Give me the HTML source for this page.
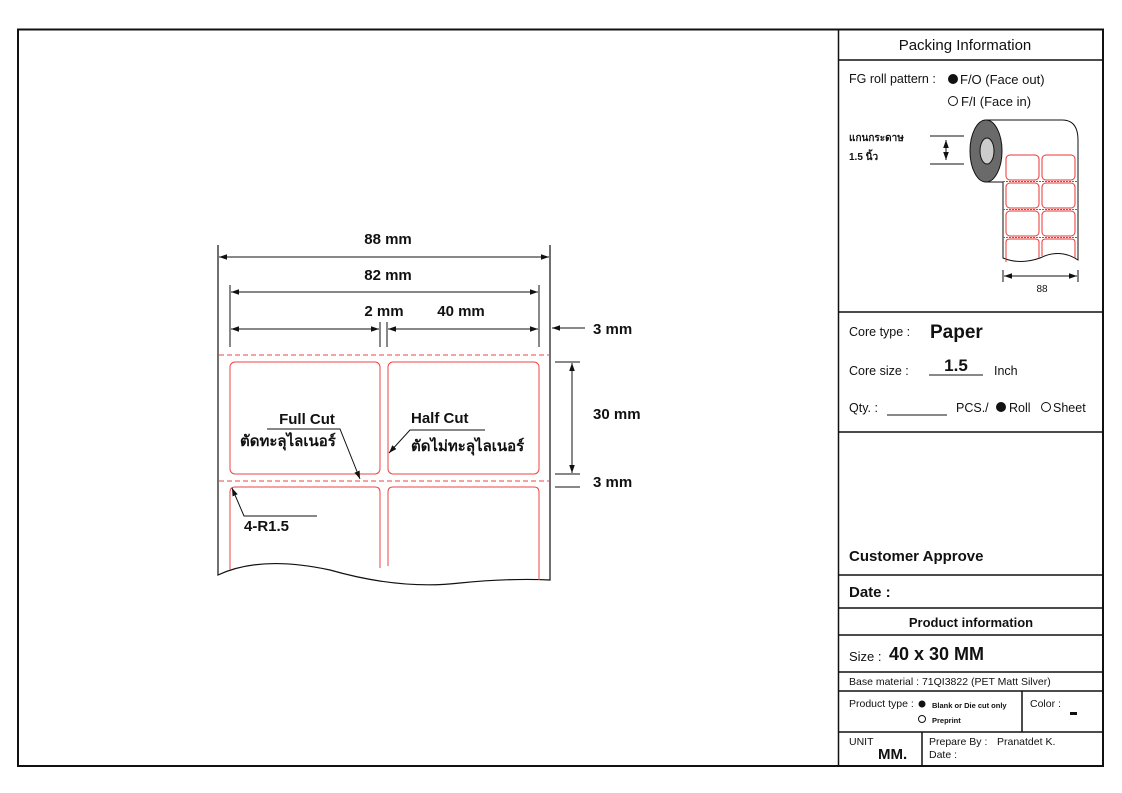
<!DOCTYPE html>
<html><head><meta charset="utf-8"><style>
html,body{margin:0;padding:0;background:#fff}
svg{display:block}
text{font-family:"Liberation Sans","DejaVu Sans",sans-serif;fill:#111}
.b{font-weight:bold}
</style></head><body>
<svg width="1122" height="793" viewBox="0 0 1122 793" xmlns="http://www.w3.org/2000/svg">
<defs>
<marker id="a" viewBox="0 0 10 10" refX="10" refY="5" markerWidth="8" markerHeight="8" orient="auto-start-reverse"><path d="M0,1.5 L10,5 L0,8.5 z" fill="#111"/></marker>
</defs>
<!-- frame -->
<rect x="18" y="29.5" width="1085" height="736.5" fill="none" stroke="#111" stroke-width="2"/>
<line x1="838.5" y1="29" x2="838.5" y2="766" stroke="#111" stroke-width="1.5"/>
<g stroke="#111" stroke-width="1.5">
<line x1="838" y1="60" x2="1103" y2="60"/>
<line x1="838" y1="312" x2="1103" y2="312"/>
<line x1="838" y1="432" x2="1103" y2="432"/>
<line x1="838" y1="575" x2="1103" y2="575"/>
<line x1="838" y1="608" x2="1103" y2="608"/>
<line x1="838" y1="635" x2="1103" y2="635"/>
<line x1="838" y1="672" x2="1103" y2="672"/>
<line x1="838" y1="691" x2="1103" y2="691"/>
<line x1="838" y1="732" x2="1103" y2="732"/>
<line x1="1022" y1="691" x2="1022" y2="732"/>
<line x1="922" y1="732" x2="922" y2="766"/>
</g>
<!-- right panel text -->
<text x="965" y="50" font-size="15" text-anchor="middle">Packing Information</text>
<text x="849" y="83" font-size="12.5">FG roll pattern :</text>
<circle cx="953" cy="79" r="5" fill="#111"/>
<text x="960" y="84" font-size="13">F/O (Face out)</text>
<circle cx="953" cy="101" r="4.5" fill="none" stroke="#111"/>
<text x="961" y="106" font-size="13">F/I (Face in)</text>
<text x="849" y="141" font-size="10" class="b">แกนกระดาษ</text>
<text x="849" y="160" font-size="10" class="b">1.5 นิ้ว</text>
<g stroke="#111" stroke-width="1">
<line x1="930" y1="136" x2="964" y2="136"/>
<line x1="930" y1="164" x2="964" y2="164"/>
<line x1="946" y1="140" x2="946" y2="160" marker-start="url(#a)" marker-end="url(#a)"/>
</g>
<!-- roll -->
<path d="M986,120 L1062,120 Q1078,120 1078,140 L1078,260 Q1060,248 1040,258 Q1020,265 1003,258 L1003,182 L986,182 Z" fill="#fff" stroke="#111"/>
<ellipse cx="986" cy="151" rx="16" ry="31" fill="#6a6a6a" stroke="#111"/>
<ellipse cx="987" cy="151" rx="7" ry="13" fill="#ccc" stroke="#111"/>
<g fill="none" stroke="#e33" stroke-width="1">
<rect x="1006" y="155" width="33" height="25" rx="4"/><rect x="1042" y="155" width="33" height="25" rx="4"/>
<rect x="1006" y="183" width="33" height="25" rx="4"/><rect x="1042" y="183" width="33" height="25" rx="4"/>
<rect x="1006" y="211" width="33" height="25" rx="4"/><rect x="1042" y="211" width="33" height="25" rx="4"/>
<path d="M1006,262 L1006,242 Q1006,239 1010,239 L1035,239 Q1039,239 1039,242 L1039,258"/>
<path d="M1042,256 L1042,242 Q1042,239 1046,239 L1071,239 Q1075,239 1075,242 L1075,258"/>
<line x1="1003" y1="181.5" x2="1078" y2="181.5" stroke-dasharray="2,1"/>
<line x1="1003" y1="209.5" x2="1078" y2="209.5" stroke-dasharray="2,1"/>
<line x1="1003" y1="237.5" x2="1078" y2="237.5" stroke-dasharray="2,1"/>
</g>
<g stroke="#111" stroke-width="1">
<line x1="1003" y1="270" x2="1003" y2="282"/><line x1="1078" y1="270" x2="1078" y2="282"/>
<line x1="1004" y1="276" x2="1077" y2="276" marker-start="url(#a)" marker-end="url(#a)"/>
</g>
<text x="1042" y="292" font-size="10" text-anchor="middle">88</text>
<text x="849" y="336" font-size="12.5">Core type :</text>
<text x="930" y="338" font-size="19" class="b">Paper</text>
<text x="849" y="375" font-size="12.5">Core size :</text>
<text x="956" y="371" font-size="17" class="b" text-anchor="middle">1.5</text>
<line x1="929" y1="375" x2="983" y2="375" stroke="#111"/>
<text x="994" y="375" font-size="12.5">Inch</text>
<text x="849" y="412" font-size="12.5">Qty. :</text>
<line x1="887" y1="415" x2="947" y2="415" stroke="#111"/>
<text x="956" y="412" font-size="12.5">PCS./</text>
<circle cx="1001" cy="407" r="5" fill="#111"/>
<text x="1009" y="412" font-size="12.5">Roll</text>
<circle cx="1046" cy="407" r="4.5" fill="none" stroke="#111"/>
<text x="1053" y="412" font-size="12.5">Sheet</text>
<text x="849" y="561" font-size="15" class="b">Customer Approve</text>
<text x="849" y="597" font-size="15" class="b">Date :</text>
<text x="971" y="627" font-size="13" class="b" text-anchor="middle">Product information</text>
<text x="849" y="661" font-size="13">Size :</text>
<text x="889" y="660" font-size="18" class="b">40 x 30 MM</text>
<text x="849" y="685" font-size="10.5">Base material : 71QI3822 (PET Matt Silver)</text>
<text x="849" y="707" font-size="10.5">Product type :</text>
<circle cx="922" cy="704" r="3.5" fill="#111"/>
<text x="932" y="708" font-size="7.5" class="b">Blank or Die cut only</text>
<circle cx="922" cy="719" r="3.5" fill="none" stroke="#111"/>
<text x="932" y="723" font-size="7.5" class="b">Preprint</text>
<text x="1030" y="707" font-size="10.5">Color :</text>
<rect x="1070" y="712" width="7" height="3" fill="#111"/>
<text x="849" y="745" font-size="10.5">UNIT</text>
<text x="878" y="759" font-size="15" class="b">MM.</text>
<text x="929" y="745" font-size="10.5">Prepare By :</text>
<text x="997" y="745" font-size="10.5">Pranatdet K.</text>
<text x="929" y="758" font-size="10.5">Date :</text>
<!-- left drawing -->
<path d="M218,245 L218,575 Q260,555 330,570 Q400,590 460,583 Q510,578 550,580 L550,245" fill="none" stroke="#111" stroke-width="1.2"/>
<g stroke="#111" stroke-width="1">
<line x1="230" y1="285" x2="230" y2="347"/><line x1="539" y1="285" x2="539" y2="347"/>
<line x1="380" y1="322" x2="380" y2="347"/><line x1="387" y1="322" x2="387" y2="347"/>
<line x1="219" y1="257" x2="549" y2="257" marker-start="url(#a)" marker-end="url(#a)"/>
<line x1="231" y1="292" x2="538" y2="292" marker-start="url(#a)" marker-end="url(#a)"/>
<line x1="231" y1="329" x2="379" y2="329" marker-start="url(#a)" marker-end="url(#a)"/>
<line x1="388" y1="329" x2="538" y2="329" marker-start="url(#a)" marker-end="url(#a)"/>
<line x1="585" y1="328" x2="552" y2="328" marker-end="url(#a)"/>
<line x1="555" y1="362" x2="580" y2="362"/><line x1="555" y1="474" x2="580" y2="474"/><line x1="555" y1="487" x2="580" y2="487"/>
<line x1="572" y1="363" x2="572" y2="473" marker-start="url(#a)" marker-end="url(#a)"/>
</g>
<text x="388" y="244" font-size="15" class="b" text-anchor="middle">88 mm</text>
<text x="388" y="280" font-size="15" class="b" text-anchor="middle">82 mm</text>
<text x="384" y="316" font-size="15" class="b" text-anchor="middle">2 mm</text>
<text x="461" y="316" font-size="15" class="b" text-anchor="middle">40 mm</text>
<text x="593" y="334" font-size="15" class="b">3 mm</text>
<text x="593" y="419" font-size="15" class="b">30 mm</text>
<text x="593" y="487" font-size="15" class="b">3 mm</text>
<g stroke="#e44" fill="none" stroke-width="1">
<line x1="219" y1="355" x2="550" y2="355" stroke-dasharray="5,3"/>
<line x1="219" y1="481" x2="550" y2="481" stroke-dasharray="5,3"/>
<rect x="230" y="362" width="150" height="112" rx="5"/>
<rect x="388" y="362" width="151" height="112" rx="5"/>
<path d="M230,570 L230,492 Q230,487 235,487 L375,487 Q380,487 380,492 L380,568"/>
<path d="M388,566 L388,492 Q388,487 393,487 L534,487 Q539,487 539,492 L539,580"/>
</g>
<text x="307" y="424" font-size="15" class="b" text-anchor="middle">Full Cut</text>
<text x="240" y="446" font-size="15" class="b">ตัดทะลุไลเนอร์</text>
<text x="411" y="423" font-size="15" class="b">Half Cut</text>
<text x="411" y="451" font-size="15" class="b">ตัดไม่ทะลุไลเนอร์</text>
<g stroke="#111" stroke-width="1" fill="none">
<path d="M267,429 L340,429 L360,479" marker-end="url(#a)"/>
<path d="M485,430 L410,430 L389,453" marker-end="url(#a)"/>
<path d="M317,516 L244,516 L232,488" marker-end="url(#a)"/>
</g>
<text x="244" y="531" font-size="15" class="b">4-R1.5</text>
</svg>
</body></html>
